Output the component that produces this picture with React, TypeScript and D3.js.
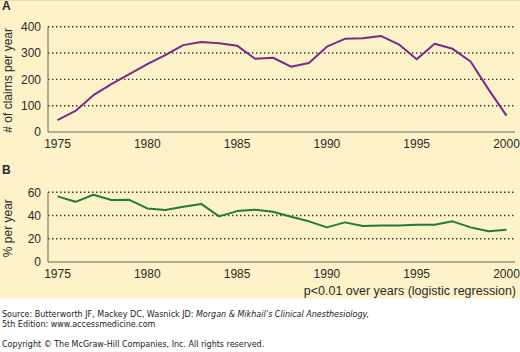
import React from "react";
import * as d3 from "d3";

const years = d3.range(1975, 2001);
const claims = [45, 80, 140, 182, 220, 258, 292, 330, 342, 337, 328, 278, 282, 248, 262, 324, 354, 356, 365, 333, 276, 335, 316, 268, 162, 62];
const percent = [56.5, 51.8, 57.9, 53.3, 53.5, 46.1, 44.7, 47.5, 50, 39.3, 43.8, 45, 43.3, 39, 35, 29.8, 34.1, 31, 31.5, 31.5, 32.1, 32, 35, 29.8, 26.4, 27.8];
const xTicks = [1975, 1980, 1985, 1990, 1995, 2000];
const yTicksA = [0, 100, 200, 300, 400];
const yTicksB = [0, 20, 40, 60];

const W = 520;
const H = 352;
const axisLeft = 48;
const axisRight = 515;

export default function App() {
  const x = d3.scaleLinear().domain([1975, 2000]).range([57.5, 506.5]);
  const yA = d3.scaleLinear().domain([0, 400]).range([132, 26.7]);
  const yB = d3.scaleLinear().domain([0, 60]).range([262, 192.3]);

  const lineA = d3.line<number>().x((_, i) => x(years[i])).y((d) => yA(d));
  const lineB = d3.line<number>().x((_, i) => x(years[i])).y((d) => yB(d));

  const font = "'Liberation Sans', Arial, Helvetica, sans-serif";
  const txt = "#2b2b2b";

  const panel = (
    y: d3.ScaleLinear<number, number>,
    ticks: number[],
    path: string,
    color: string,
    title: string,
    letter: string,
    letterY: number
  ) => {
    const y0 = y(0);
    const yTop = y(ticks[ticks.length - 1]);
    return (
      <g>
        <text x={2} y={letterY} fontFamily={font} fontWeight="bold" fontSize={12} fill={txt}>
          {letter}
        </text>
        {ticks
          .filter((t) => t > 0)
          .map((t) => (
            <line
              key={"g" + t}
              x1={axisLeft}
              x2={axisRight}
              y1={y(t)}
              y2={y(t)}
              stroke="#333"
              strokeWidth={1.4}
              strokeDasharray="1.4 2.6"
            />
          ))}
        <line x1={axisLeft} x2={axisLeft} y1={yTop} y2={y0} stroke="#666" strokeWidth={1} />
        <line x1={axisLeft} x2={axisRight} y1={y0} y2={y0} stroke="#666" strokeWidth={1} />
        {ticks.map((t) => (
          <text
            key={"t" + t}
            x={41}
            y={y(t)}
            dy="0.36em"
            textAnchor="end"
            fontFamily={font}
            fontSize={12}
            fill={txt}
          >
            {t}
          </text>
        ))}
        {xTicks.map((t) => (
          <text
            key={"x" + t}
            x={x(t)}
            y={y0 + 16}
            textAnchor="middle"
            fontFamily={font}
            fontSize={12}
            fill={txt}
          >
            {t}
          </text>
        ))}
        <text
          transform={`translate(12,${(yTop + y0) / 2 + 1}) rotate(-90)`}
          textAnchor="middle"
          fontFamily={font}
          fontSize={12}
          fill={txt}
        >
          {title}
        </text>
        <path d={path} fill="none" stroke={color} strokeWidth={2} strokeLinejoin="round" />
      </g>
    );
  };

  return (
    <svg
      width={W}
      height={H}
      style={{ position: "absolute", left: 0, top: 0, background: "#fff" }}
    >
      <rect x={0} y={0} width={W} height={298.5} fill="#fdf2c8" />
      <line x1={0} x2={W} y1={0.5} y2={0.5} stroke="#e8dcae" strokeWidth={1} />
      {panel(yA, yTicksA, lineA(claims) || "", "#7b2a8c", "# of claims per year", "A", 10)}
      {panel(yB, yTicksB, lineB(percent) || "", "#1f7d39", "% per year", "B", 174)}
      <text x={516} y={295} textAnchor="end" fontFamily={font} fontSize={12.5} fill={txt}>
        p&lt;0.01 over years (logistic regression)
      </text>
      <g fontFamily="'DejaVu Sans', Verdana, sans-serif" fontSize={8} fill="#222">
        <text x={2} y={317}>
          Source: Butterworth JF, Mackey DC, Wasnick JD:{" "}
          <tspan fontStyle="italic">Morgan &amp; Mikhail’s Clinical Anesthesiology,</tspan>
        </text>
        <text x={2} y={327}>5th Edition: www.accessmedicine.com</text>
        <text x={2} y={347}>Copyright © The McGraw-Hill Companies, Inc. All rights reserved.</text>
      </g>
    </svg>
  );
}
